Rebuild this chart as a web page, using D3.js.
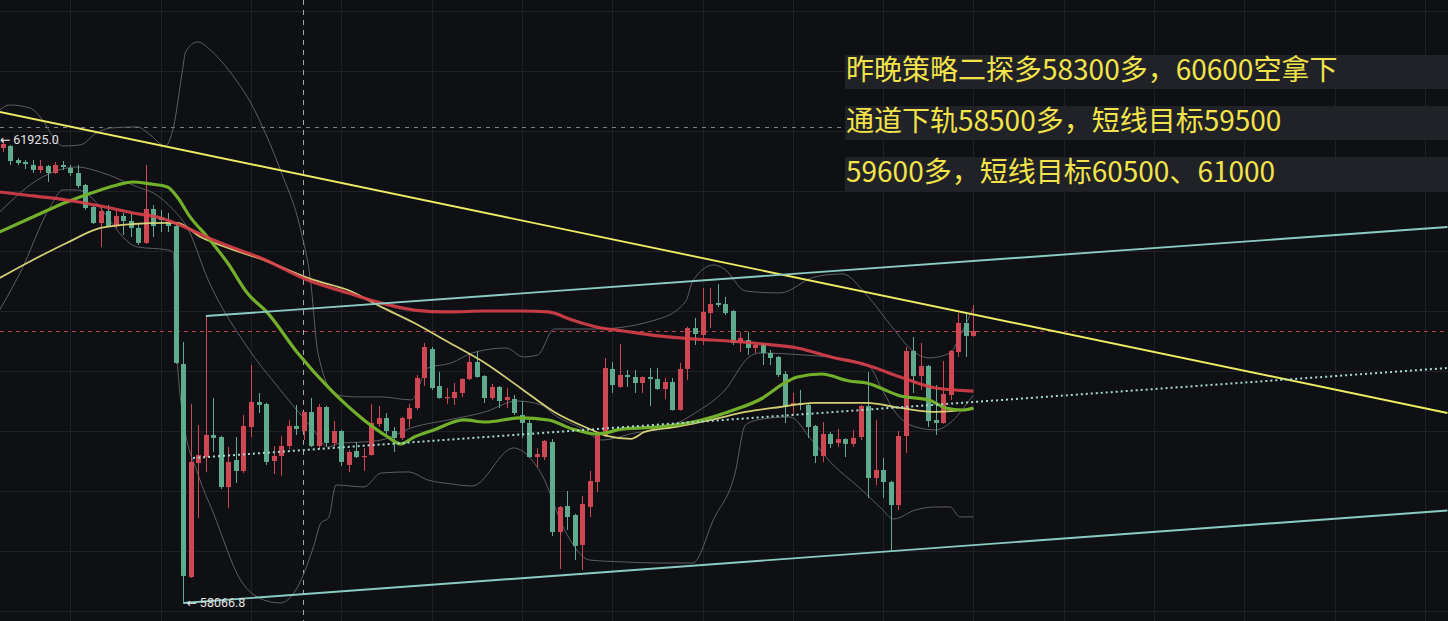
<!DOCTYPE html>
<html><head><meta charset="utf-8">
<script src="https://cdn.jsdelivr.net/npm/d3@7"></script>
<style>html,body{margin:0;padding:0;background:#0f1014;overflow:hidden}</style>
</head><body><svg id="c" width="1448" height="621"></svg>
<script>
// ---- candle data (index 0..129), prices ----
const opens = [61858,61875,61758,61742,61717,61675,61708,61650,61717,61692,61650,61550,61367,61233,61333,61208,61292,61250,61192,61067,61350,61283,61242,61208,60058,58283,59233,59283,59467,59450,59033,59258,59167,59533,59742,59725,59250,59292,59375,59542,59500,59658,59375,59700,59400,59500,59217,59333,59283,59300,59558,59608,59500,59442,59600,59692,59942,60183,59875,59775,59775,59817,59933,60075,59958,59775,59867,59758,59767,59633,59567,59283,59283,59408,58658,58875,58800,58550,58867,59075,59458,60017,59867,59967,59950,59900,59950,59933,59850,59908,59675,60017,60358,60300,60483,60567,60558,60500,60242,60258,60192,60225,60150,60117,59975,59717,59733,59717,59542,59292,59475,59400,59433,59392,59450,59708,59108,59175,59075,58883,59458,60167,59958,60042,59592,59567,59800,60158,60400,60292];
const highs = [61925,61883,61775,61758,61758,61758,61717,61742,61750,61717,61717,61560,61375,61367,61383,61333,61317,61317,61233,61717,61383,61342,61317,61242,60242,59725,59550,60458,59775,59460,59367,59450,59633,60050,59817,59735,59375,59458,59592,59717,59660,59775,59725,59710,59583,59510,59342,59408,59358,59725,59708,59650,59533,59617,59725,59967,60233,60200,59992,59858,59900,59940,60150,60167,59965,59892,59875,59858,59800,59750,59592,59358,59425,59433,58875,59000,58810,58958,59167,59475,60108,60075,60225,60008,60008,59955,60025,60025,59942,59942,60067,60370,60442,60692,60692,60725,60617,60510,60325,60325,60225,60235,60175,60125,60000,59817,59842,59725,59550,59575,59492,59517,59440,59508,59715,59992,59592,59275,59085,59500,60200,60283,60233,60050,59883,60083,60175,60483,60475,60550];
const lows = [61825,61717,61717,61683,61650,61650,61575,61642,61675,61625,61525,61342,61225,61033,61200,61192,61133,61117,61050,61060,61117,61158,61158,60060,58066.8,58275,58775,59158,59325,59017,58858,59067,59150,59450,59650,59217,59142,59125,59350,59467,59425,59367,59350,59375,59367,59208,59158,59275,59167,59295,59533,59450,59325,59425,59533,59675,59875,59842,59770,59725,59717,59783,59925,59945,59733,59758,59692,59692,59633,59442,59275,59200,59258,58625,58350,58675,58425,58342,58783,58992,59450,59817,59860,59867,59817,59817,59708,59842,59767,59670,59670,59925,60217,60217,60358,60533,60467,60217,60158,60133,60150,60050,60050,59950,59567,59633,59675,59442,59233,59242,59358,59367,59283,59367,59425,58942,59050,58942,58508,58842,59317,59817,59842,59533,59467,59560,59758,60117,60117,60285];
const closes = [61892,61750,61733,61725,61675,61708,61650,61717,61700,61650,61542,61358,61233,61333,61208,61292,61250,61192,61067,61350,61208,61258,61208,60067,58292,59242,59300,59467,59442,59033,59242,59167,59542,59742,59717,59242,59292,59375,59542,59517,59658,59375,59700,59400,59500,59242,59325,59283,59292,59567,59608,59500,59442,59608,59692,59942,60200,59858,59775,59783,59825,59933,60075,59950,59775,59867,59750,59783,59650,59567,59283,59308,59417,58658,58867,58783,58542,58892,59083,59467,60025,59883,59967,59950,59900,59950,59933,59850,59908,59675,60017,60358,60308,60492,60558,60550,60483,60233,60275,60192,60217,60150,60108,59967,59700,59733,59717,59533,59292,59475,59392,59433,59392,59442,59708,59108,59175,59075,58883,59458,60167,59958,60042,59583,59567,59808,60167,60400,60292,60333];

// ---- indicator lines: [candle index, price] ----
const maRed = [[-0.4,61492],[4,61459],[8.5,61425],[13,61375],[17.3,61317],[21,61275],[24.5,61192],[28,61092],[30.7,61025],[34.3,60942],[40.5,60758],[45.9,60650],[50.3,60567],[54.7,60508],[59.2,60492],[64.1,60500],[68.8,60500],[72.5,60492],[75.7,60425],[78.9,60367],[82.5,60333],[87.2,60292],[91.7,60267],[96.4,60250],[101,60225],[105.6,60192],[110.1,60117],[114.8,60050],[119.3,59950],[124,59858],[129,59833]];
const maGreen = [[-0.4,61159],[4,61284],[8.5,61409],[13,61509],[15.2,61550],[17.3,61575],[19.6,61559],[21.9,61534],[23.2,61450],[24.9,61284],[27.2,61117],[29.9,60900],[32.5,60650],[35.2,60484],[39.2,60150],[43.6,59842],[48,59592],[51.2,59450],[52.9,59392],[54.7,59450],[57.3,59509],[61.3,59592],[64.1,59575],[68.8,59609],[72.5,59592],[75.7,59517],[78.9,59475],[82.5,59517],[87.2,59534],[91.7,59575],[96.4,59659],[101,59775],[103.7,59892],[105.6,59950],[108.8,59975],[112.5,59917],[114.8,59900],[119.3,59792],[123.1,59759],[125.3,59692],[127.6,59675],[129,59692]];
const maYellow = [[-0.4,60775],[4,60925],[8.5,61067],[13,61192],[17.3,61225],[21.9,61234],[23.2,61234],[26.3,61117],[30.7,61009],[34.3,60934],[41.3,60759],[45.9,60675],[50.3,60534],[54.7,60400],[59.2,60242],[64.1,60067],[68.8,59859],[73.3,59659],[78,59517],[80.3,59459],[83.5,59434],[85.3,59492],[89.5,59534],[94.1,59592],[98.7,59659],[103.3,59700],[107.9,59734],[114.8,59734],[119.3,59692],[124,59659],[129,59684]];
const bollUpper = [[-0.4,62175],[0.9,62217],[3.6,62192],[5.3,62092],[6.7,61950],[8,61875],[10.3,61884],[12.5,61984],[14.3,62025],[17.9,62034],[19.6,61967],[21.6,61875],[22.7,62034],[23.9,62509],[24.3,62659],[25.9,62742],[27.6,62675],[28.9,62592],[31.2,62409],[32.9,62242],[34.3,62067],[36.9,61675],[39.6,61175],[40.9,60759],[41.9,60150],[44.3,59800],[47.2,59784],[50.3,59784],[54.3,59759],[56.5,60025],[59.6,60067],[62.4,60150],[66.9,60192],[69.2,60117],[71.1,60134],[73.3,60350],[78.9,60350],[87.2,60434],[90.8,60584],[91.7,60750],[94.5,60884],[95.9,60850],[98.7,60667],[103.3,60650],[107.9,60784],[111.6,60809],[114.8,60634],[118.4,60350],[120.8,60175],[123.1,60109],[125.9,60150],[127.2,60292],[129,60525]];
const bollMid = [[-0.4,61325],[5.3,61617],[9.9,61700],[12.9,61659],[17.9,61534],[20,61484],[22.7,61342],[24.5,61200],[27.3,60759],[32.5,60200],[36.9,59842],[41.3,59509],[43.2,59367],[44.9,59400],[48,59409],[50.3,59425],[54.7,59534],[59.2,59592],[64.1,59659],[68.3,59750],[71.6,59717],[73.3,59634],[77.1,59517],[79.6,59425],[84,59484],[88.5,59534],[92,59650],[96,59842],[99.2,60117],[100.5,60150],[106.3,60134],[112.5,60092],[115.2,60034],[116.9,59842],[118.7,59650],[121.3,59534],[124,59509],[125.9,59567],[128.5,59759],[129,59800]];
const bollLower = [[-0.4,60509],[2.3,60817],[6.3,61367],[8,61509],[9.9,61509],[17.9,61034],[21.9,61009],[22.7,60984],[23,60350],[24,59600],[25.9,59150],[28,58817],[31.6,58259],[34.7,58092],[36.9,58067],[38.7,58150],[41.3,58534],[42.3,58734],[43.3,58775],[44.3,59050],[48,59034],[50.3,59150],[53.9,59159],[56.5,59092],[59.6,59059],[62.4,59042],[67.9,59359],[68.8,59342],[71.6,59142],[74.8,58659],[78,58425],[82.5,58409],[87.2,58400],[91.7,58400],[94.5,58767],[97.3,59142],[98.7,59550],[100.9,59600],[104.6,59617],[107.4,59434],[110.1,59234],[113.9,59025],[116.7,58859],[118.4,58767],[121.3,58842],[124,58867],[125.9,58867],[127.2,58784],[129,58784]];

// drawn trend / channel lines [candle index, price]
const trendYellow = [[-0.4,62159],[192,59650]];
const channelUpper = [[27,60458],[192,61200]];
const channelLower = [[24,58066.8],[192,58838]];
const channelMid = [[25.3,59275],[192,60025]];
const refLine = 62035;          // grey dashed horizontal
const lastPrice = closes[closes.length-1];
const markerIndex = 39.85;      // vertical dashed marker

const priceGrid = d3.range(58000, 63001, 500);
const timeGrid = d3.range(9, 192, 12);
const maxLabel = {i:0, p:61925.0, text:"← 61925.0"};
const minLabel = {i:24, p:58066.8, text:"← 58066.8"};
const notes = ["昨晚策略二探多58300多，60600空拿下", "通道下轨58500多，短线目标59500", "59600多，短线目标60500、61000"];

// ---- drawing ----
const W = 1448, H = 621;
const svg = d3.select("#c");
const x = d3.scaleLinear().domain([0,129]).range([2.7,973.4]);
const y = d3.scaleLinear().domain([58000,62000]).range([611,131]);

svg.append("rect").attr("width",W).attr("height",H).attr("fill","#0f1014");

const g = svg.append("g");
g.selectAll(".hg").data(priceGrid).join("line")
  .attr("x1",0).attr("x2",W).attr("y1",d=>Math.round(y(d))+0.5).attr("y2",d=>Math.round(y(d))+0.5)
  .attr("stroke","#1f2126").attr("stroke-width",1);
g.selectAll(".vg").data(timeGrid).join("line")
  .attr("y1",0).attr("y2",H).attr("x1",d=>Math.round(x(d))+0.5).attr("x2",d=>Math.round(x(d))+0.5)
  .attr("stroke","#1f2126").attr("stroke-width",1);

// dashed reference lines
g.append("line").attr("x1",0).attr("x2",W).attr("y1",Math.round(y(refLine))+0.5).attr("y2",Math.round(y(refLine))+0.5)
  .attr("stroke","#7d7f85").attr("stroke-dasharray","4,5").attr("stroke-width",1);
g.append("line").attr("y1",0).attr("y2",H).attr("x1",Math.round(x(markerIndex))+0.5).attr("x2",Math.round(x(markerIndex))+0.5)
  .attr("stroke","#a4a6ab").attr("stroke-dasharray","5,5").attr("stroke-width",1);
g.append("line").attr("x1",0).attr("x2",W).attr("y1",Math.round(y(lastPrice))+0.5).attr("y2",Math.round(y(lastPrice))+0.5)
  .attr("stroke","#b5434d").attr("stroke-dasharray","4,4").attr("stroke-width",1);

const curve = d3.line().x(d=>x(d[0])).y(d=>y(d[1])).curve(d3.curveMonotoneX);
const straight = d3.line().x(d=>x(d[0])).y(d=>y(d[1]));

// bollinger bands
[bollUpper, bollMid, bollLower].forEach(s=>{
  g.append("path").attr("d",curve(s)).attr("fill","none").attr("stroke","#5c5e63").attr("stroke-width",1);
});

// candles
const idx = d3.range(opens.length);
const cg = g.append("g");
const up = i => closes[i] >= opens[i];
const red = "#cf4753", green = "#5fab8d";
cg.selectAll(".wick").data(idx).join("line")
  .attr("x1",i=>Math.round(x(i))+0.5).attr("x2",i=>Math.round(x(i))+0.5)
  .attr("y1",i=>y(highs[i])).attr("y2",i=>y(lows[i]))
  .attr("stroke",i=>up(i)?red:green).attr("stroke-width",1);
cg.selectAll(".body").data(idx).join("rect")
  .attr("x",i=>Math.round(x(i))-2).attr("width",5)
  .attr("y",i=>y(Math.max(opens[i],closes[i])))
  .attr("height",i=>Math.max(1.2, Math.abs(y(opens[i])-y(closes[i]))))
  .attr("fill",i=>up(i)?red:green);

// moving averages
g.append("path").attr("d",curve(maYellow)).attr("fill","none").attr("stroke","#dcd97a").attr("stroke-width",1.8).attr("opacity",0.95);
g.append("path").attr("d",curve(maGreen)).attr("fill","none").attr("stroke","#72b02c").attr("stroke-width",3.2);
g.append("path").attr("d",curve(maRed)).attr("fill","none").attr("stroke","#d9404a").attr("stroke-width",3.2).attr("opacity",0.9);

// drawn lines
g.append("path").attr("d",straight(trendYellow)).attr("stroke","#eeec62").attr("stroke-width",1.9).attr("fill","none");
g.append("path").attr("d",straight(channelUpper)).attr("stroke","#8ccbc4").attr("stroke-width",1.9).attr("fill","none");
g.append("path").attr("d",straight(channelLower)).attr("stroke","#8ccbc4").attr("stroke-width",1.9).attr("fill","none");
g.append("path").attr("d",straight(channelMid)).attr("stroke","#a9d9d6").attr("stroke-width",2).attr("stroke-dasharray","2,3").attr("fill","none");

// extreme labels
[maxLabel, minLabel].forEach(l=>{
  svg.append("text").attr("x",x(l.i)+ (l.i===0?-3:3)).attr("y",y(l.p)).attr("dy","0.35em")
    .attr("font-family","Roboto, 'DejaVu Sans', sans-serif").attr("font-size",12.5).attr("fill","#e4e4e6")
    .text(l.text);
});

// note boxes
const nb = svg.append("g");
notes.forEach((t,k)=>{
  const top = 55 + k*51;
  nb.append("rect").attr("x",845).attr("y",top).attr("width",W-845).attr("height",34).attr("fill","#232428").attr("opacity",0.95);
  nb.append("text").attr("x",846).attr("y",top+25).attr("font-family","'Noto Sans CJK SC', sans-serif")
    .attr("font-size",28).attr("fill","#f3e34b").text(t);
});
</script></body></html>
